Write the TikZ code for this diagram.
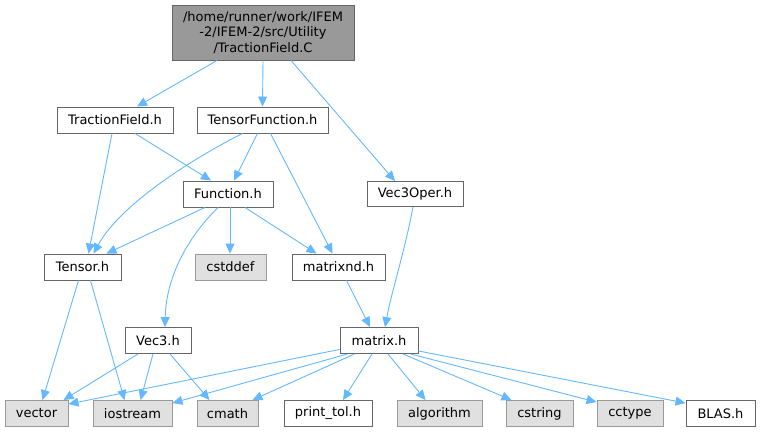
\documentclass[tikz,border=0pt]{standalone}
\usepackage{fontspec}
\setmainfont{DejaVu Sans}
\usetikzlibrary{arrows.meta}
\definecolor{edgec}{HTML}{63B8FF}
\definecolor{grayfill}{HTML}{E0E0E0}
\definecolor{topfill}{HTML}{999999}
\definecolor{darkb}{HTML}{666666}
\definecolor{lightb}{HTML}{999999}
\tikzset{
  box/.style={draw=darkb, fill=white, line width=0.9pt, inner sep=0pt, font=\fontsize{13}{15}\selectfont},
  sysbox/.style={box, draw=lightb, fill=grayfill},
  topbox/.style={box, fill=topfill, align=center, font=\fontsize{13}{15.5}\selectfont},
  e/.style={draw=edgec, line width=0.9pt, -{Triangle[length=10pt,width=9pt,fill=edgec]}},
}
\begin{document}
\begin{tikzpicture}[x=1pt,y=-1pt]
\useasboundingbox (0,0) rectangle (760,432);
\node[topbox, minimum width=182pt, minimum height=55pt] (top) at (263,32.5) {/home/runner/work/IFEM\\-2/IFEM-2/src/Utility\\/TractionField.C};
\node[box, minimum width=116pt, minimum height=26pt] (tfh) at (115,120) {TractionField.h};
\node[box, minimum width=131pt, minimum height=26pt] (tens) at (262.5,120) {TensorFunction.h};
\node[box, minimum width=90pt, minimum height=26pt] (func) at (228,194) {Function.h};
\node[box, minimum width=96pt, minimum height=25pt] (v3o) at (415,194) {Vec3Oper.h};
\node[box, minimum width=77pt, minimum height=26pt] (tensor) at (82.5,267) {Tensor.h};
\node[sysbox, minimum width=71pt, minimum height=26pt] (cstddef) at (230.5,267) {cstddef};
\node[box, minimum width=93pt, minimum height=26pt] (mnd) at (338.5,267) {matrixnd.h};
\node[box, minimum width=66pt, minimum height=26pt] (vec3) at (158,340.5) {Vec3.h};
\node[box, minimum width=78pt, minimum height=26pt] (matrix) at (379,340.5) {matrix.h};
\node[sysbox, minimum width=63pt, minimum height=26pt] (vector) at (36.5,413.5) {vector};
\node[sysbox, minimum width=79pt, minimum height=26pt] (iostream) at (132.5,413.5) {iostream};
\node[sysbox, minimum width=61pt, minimum height=26pt] (cmath) at (227.5,413.5) {cmath};
\node[box, minimum width=88pt, minimum height=26pt] (ptol) at (328,413.5) {print\_tol.h};
\node[sysbox, minimum width=85pt, minimum height=26pt] (algo) at (439.5,413.5) {algorithm};
\node[sysbox, minimum width=67pt, minimum height=26pt] (cstring) at (539.5,413.5) {cstring};
\node[sysbox, minimum width=66pt, minimum height=26pt] (cctype) at (630,413.5) {cctype};
\node[box, minimum width=69pt, minimum height=26pt] (blas) at (720.5,413.5) {BLAS.h};

% top
\draw[e] ([xshift=-46pt]top.south) -- ([xshift=22pt]tfh.north);
\draw[e] (top.south) -- (tens.north);
\draw[e] ([xshift=28pt]top.south) -- ([xshift=-20pt]v3o.north);
% TractionField.h
\draw[e] ([xshift=20pt]tfh.south) -- ([xshift=-17pt]func.north);
\draw[e] ([xshift=-3pt]tfh.south) -- ([xshift=6pt]tensor.north);
% TensorFunction.h
\draw[e] ([xshift=-5pt]tens.south) -- ([xshift=6pt]func.north);
\draw[e] ([xshift=-20pt]tens.south) .. controls (190,160) and (120,205) .. ([xshift=11pt]tensor.north);
\draw[e] ([xshift=8pt]tens.south) -- ([xshift=-6pt]mnd.north);
% Function.h
\draw[e] ([xshift=-23pt]func.south) -- ([xshift=24pt]tensor.north);
\draw[e] ([xshift=2pt]func.south) -- ([xshift=-0.5pt]cstddef.north);
\draw[e] ([xshift=17pt]func.south) -- ([xshift=-22pt]mnd.north);
\draw[e] ([xshift=-10pt]func.south) .. controls (185,240) and (166,280) .. ([xshift=7pt]vec3.north);
% Vec3Oper.h
\draw[e] ([xshift=-2pt]v3o.south) .. controls (405,250) and (392,290) .. ([xshift=6pt]matrix.north);
% matrixnd.h
\draw[e] ([xshift=8pt]mnd.south) -- ([xshift=-9pt]matrix.north);
% Tensor.h
\draw[e] ([xshift=-4pt]tensor.south) -- ([xshift=6pt]vector.north);
\draw[e] ([xshift=8pt]tensor.south) -- ([xshift=-8pt]iostream.north);
% Vec3.h
\draw[e] ([xshift=-20pt]vec3.south) -- ([xshift=27pt]vector.north);
\draw[e] ([xshift=-5pt]vec3.south) -- ([xshift=8pt]iostream.north);
\draw[e] ([xshift=12pt]vec3.south) -- ([xshift=-18pt]cmath.north);
% matrix.h
\draw[e] ([yshift=4.5pt]matrix.south west) -- ([yshift=-4pt]vector.north east);
\draw[e] ([xshift=8pt]matrix.south west) -- ([yshift=-3pt]iostream.north east);
\draw[e] ([xshift=15pt]matrix.south west) -- ([xshift=-6pt]cmath.north east);
\draw[e] ([xshift=-7pt]matrix.south) -- ([xshift=15pt]ptol.north);
\draw[e] ([xshift=9pt]matrix.south) -- ([xshift=-14pt]algo.north);
\draw[e] ([xshift=24pt]matrix.south) -- ([xshift=-28pt]cstring.north);
\draw[e] ([xshift=-8pt]matrix.south east) -- ([yshift=-2pt]cctype.north west);
\draw[e] ([yshift=3pt]matrix.south east) -- ([yshift=-3pt]blas.north west);
\end{tikzpicture}
\end{document}
